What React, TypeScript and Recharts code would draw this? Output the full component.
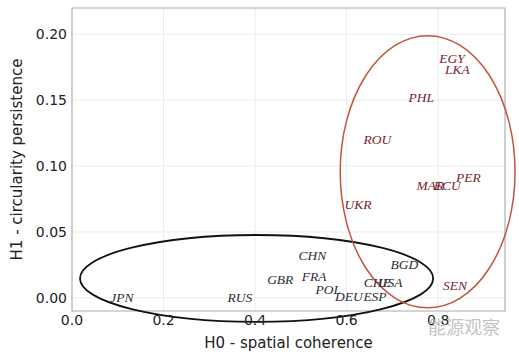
import {
  CartesianGrid,
  ReferenceArea,
  Scatter,
  ScatterChart,
  XAxis,
  YAxis,
} from 'recharts';

// countries inside the black (low-H1) ellipse
const groupACodes = ['JPN', 'RUS', 'GBR', 'CHN', 'FRA', 'POL', 'DEU', 'ESP', 'CHE', 'USA', 'BGD'];
const groupAH0 = [0.109, 0.367, 0.455, 0.525, 0.529, 0.56, 0.605, 0.662, 0.667, 0.695, 0.726];
const groupAH1 = [0.0, 0.0, 0.0136, 0.032, 0.016, 0.006, 0.0008, 0.0008, 0.0114, 0.0114, 0.025];

// countries inside the red (high-H1) ellipse
const groupBCodes = ['UKR', 'ROU', 'PHL', 'EGY', 'LKA', 'MAR', 'ECU', 'PER', 'SEN'];
const groupBH0 = [0.625, 0.667, 0.763, 0.83, 0.842, 0.783, 0.82, 0.866, 0.837];
const groupBH1 = [0.071, 0.12, 0.152, 0.182, 0.173, 0.0856, 0.0856, 0.091, 0.009];

const xTicks = [0, 0.2, 0.4, 0.6, 0.8];
const yTicks = [0, 0.05, 0.1, 0.15, 0.2];

const xDomain: [number, number] = [0, 0.946];
const yDomain: [number, number] = [-0.01, 0.22];

const groupA = groupACodes.map((code, i) => ({code, h0: groupAH0[i], h1: groupAH1[i]}));
const groupB = groupBCodes.map((code, i) => ({code, h0: groupBH0[i], h1: groupBH1[i]}));

const makeLabel = (color: string) => (props: any) => (
  <text
    x={props.cx}
    y={props.cy}
    textAnchor="middle"
    dominantBaseline="central"
    fontFamily="'Liberation Serif', serif"
    fontStyle="italic"
    fontSize={13.5}
    fill={color}
  >
    {props.payload.code}
  </text>
);

const makeEllipse = (color: string, width: number) => (props: any) => (
  <ellipse
    cx={props.x + props.width / 2}
    cy={props.y + props.height / 2}
    rx={props.width / 2}
    ry={props.height / 2}
    fill="none"
    stroke={color}
    strokeWidth={width}
  />
);

const tickStyle = {fontFamily: "'DejaVu Sans', sans-serif", fontSize: 14, fill: '#222'};

export default function App() {
  return (
    <div style={{position: 'absolute', left: 0, top: 0, width: 519, height: 354, background: '#fff'}}>
      <ScatterChart width={519} height={354} margin={{top: 8, right: 14, left: 12, bottom: 0}}>
        <CartesianGrid stroke="#ececec" />
        <XAxis
          type="number"
          dataKey="h0"
          domain={xDomain}
          ticks={xTicks}
          tickFormatter={(v: number) => v.toFixed(1)}
          allowDataOverflow
          height={43}
          tickSize={0}
          tickMargin={4}
          axisLine={false}
          tick={tickStyle}
          label={{
            value: 'H0 - spatial coherence',
            position: 'insideBottom',
            offset: 6,
            style: {...tickStyle, fontSize: 15},
          }}
        />
        <YAxis
          type="number"
          dataKey="h1"
          domain={yDomain}
          ticks={yTicks}
          tickFormatter={(v: number) => v.toFixed(2)}
          allowDataOverflow
          width={60}
          tickSize={0}
          tickMargin={5}
          axisLine={false}
          tick={tickStyle}
          label={{
            value: 'H1 - circularity persistence',
            angle: -90,
            position: 'insideLeft',
            offset: 5,
            style: {...tickStyle, fontSize: 15, textAnchor: 'middle'},
          }}
        />
        <ReferenceArea
          x1={xDomain[0]}
          x2={xDomain[1]}
          y1={yDomain[0]}
          y2={yDomain[1]}
          fill="none"
          stroke="#b4b4b4"
          strokeWidth={1.2}
          ifOverflow="visible"
        />
        <Scatter data={groupA} shape={makeLabel('#2c2c36')} isAnimationActive={false} />
        <Scatter data={groupB} shape={makeLabel('#77232f')} isAnimationActive={false} />
        <ReferenceArea
          x1={0.0175}
          x2={0.789}
          y1={-0.0182}
          y2={0.0477}
          ifOverflow="visible"
          shape={makeEllipse('#111', 1.8)}
        />
        <ReferenceArea
          x1={0.586}
          x2={0.968}
          y1={-0.0076}
          y2={0.199}
          ifOverflow="visible"
          shape={makeEllipse('#c4543e', 1.5)}
        />
      </ScatterChart>
      <div
        style={{
          position: 'absolute',
          left: 428,
          top: 316,
          fontFamily: "'Noto Sans CJK SC', sans-serif",
          fontSize: 18,
          color: '#c4c4c4',
          lineHeight: '20px',
        }}
      >
        能源观察
      </div>
    </div>
  );
}
